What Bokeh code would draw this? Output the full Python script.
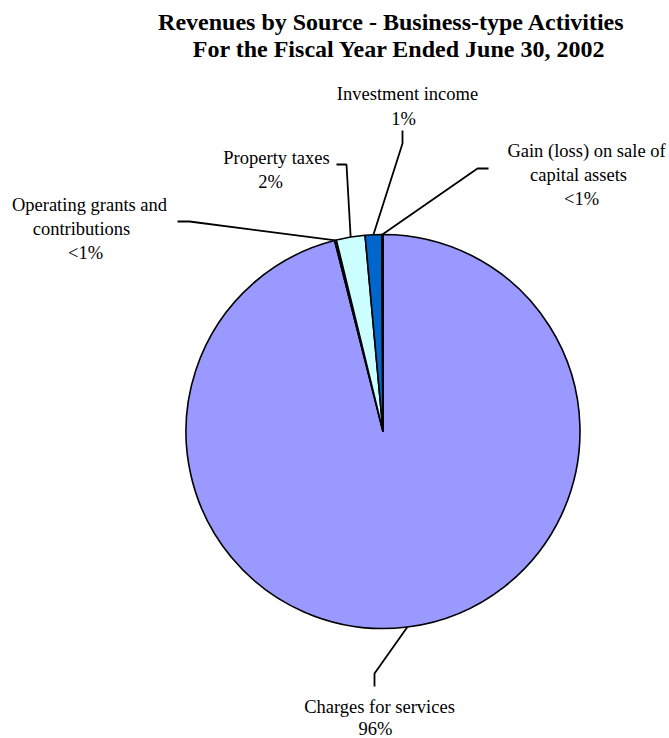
import math
from bokeh.plotting import figure
from bokeh.models import Range1d, ColumnDataSource
from bokeh.core.properties import value
from bokeh.embed import file_html
from bokeh.resources import INLINE

# ---- data (percent of business-type revenues) ----
categories = ["Charges for services", "Operating grants and contributions",
              "Property taxes", "Investment income",
              "Gain (loss) on sale of capital assets"]
shares = [96.05, 0.15, 2.35, 1.35, 0.10]
pct_labels = ["96%", "<1%", "2%", "1%", "<1%"]
colors = ["#9999FF", "#993366", "#CCFFFF", "#0066CC", "#FFFFCC"]

W, H = 669, 738
CX, CY, R = 382.5, 431.0, 197.0   # pixel coords (from top)

def Y(py):
    return H - py

p = figure(width=W, height=H, output_backend="svg", toolbar_location=None,
           x_range=Range1d(0, W), y_range=Range1d(0, H), min_border=0)
p.axis.visible = False
p.grid.visible = False
p.outline_line_color = None
p.background_fill_color = "white"

total = sum(shares)
cum = 0.0
starts, ends, mids = [], [], []
for s in shares:
    a0 = math.pi / 2 - 2 * math.pi * cum / total
    cum += s
    a1 = math.pi / 2 - 2 * math.pi * cum / total
    starts.append(a1)
    ends.append(a0)
    mids.append((a0 + a1) / 2)

src = ColumnDataSource(dict(start=starts, end=ends, color=colors))
p.wedge(x=CX, y=Y(CY), radius=R, radius_units="screen",
        start_angle="start", end_angle="end", direction="anticlock",
        fill_color="color", line_color="black", line_width=1.6, source=src)

# leader lines: from slice edge (mid angle) to elbow to end (pixel coords)
leader_pts = [
    [(374, 673), (374, 686)],   # charges
    [(189, 221), (177, 221)],   # operating grants
    [(346, 164), (336, 164)],   # property taxes
    [(402, 143), (402, 130)],   # investment income
    [(477, 168), (488, 168)],   # gain
]
for m, pts in zip(mids, leader_pts):
    ex = CX + R * math.cos(m)
    ey = Y(CY) + R * math.sin(m)
    xs = [ex] + [q[0] for q in pts]
    ys = [ey] + [Y(q[1]) for q in pts]
    p.line(xs, ys, line_color="black", line_width=1.8)

# label text lines (x center, y middle in pixel coords)
label_lines = [
    [("Charges for services", 379, 706), (pct_labels[0], 375, 728)],
    [("Operating grants and", 89, 204), ("contributions", 81, 228), (pct_labels[1], 85, 252)],
    [("Property taxes", 276, 157), (pct_labels[2], 270, 181)],
    [("Investment income", 407, 93), (pct_labels[3], 403, 118)],
    [("Gain (loss) on sale of", 586, 150), ("capital assets", 578, 174), (pct_labels[4], 581, 198)],
]
tx, ty, tt = [], [], []
for group in label_lines:
    for t, x, y in group:
        tx.append(x); ty.append(Y(y)); tt.append(t)
p.text(x=tx, y=ty, text=tt, text_font=value("Liberation Serif"),
       text_font_size="18.5px", text_align="center", text_baseline="middle",
       text_color="black")

# title
p.text(x=[391, 399], y=[Y(21), Y(48)],
       text=["Revenues by Source - Business-type Activities",
             "For the Fiscal Year Ended June 30, 2002"],
       text_font=value("Liberation Serif"), text_font_style="bold",
       text_font_size="24px", text_align="center", text_baseline="middle",
       text_color="black")

open("out.html", "w").write(file_html(p, INLINE))
